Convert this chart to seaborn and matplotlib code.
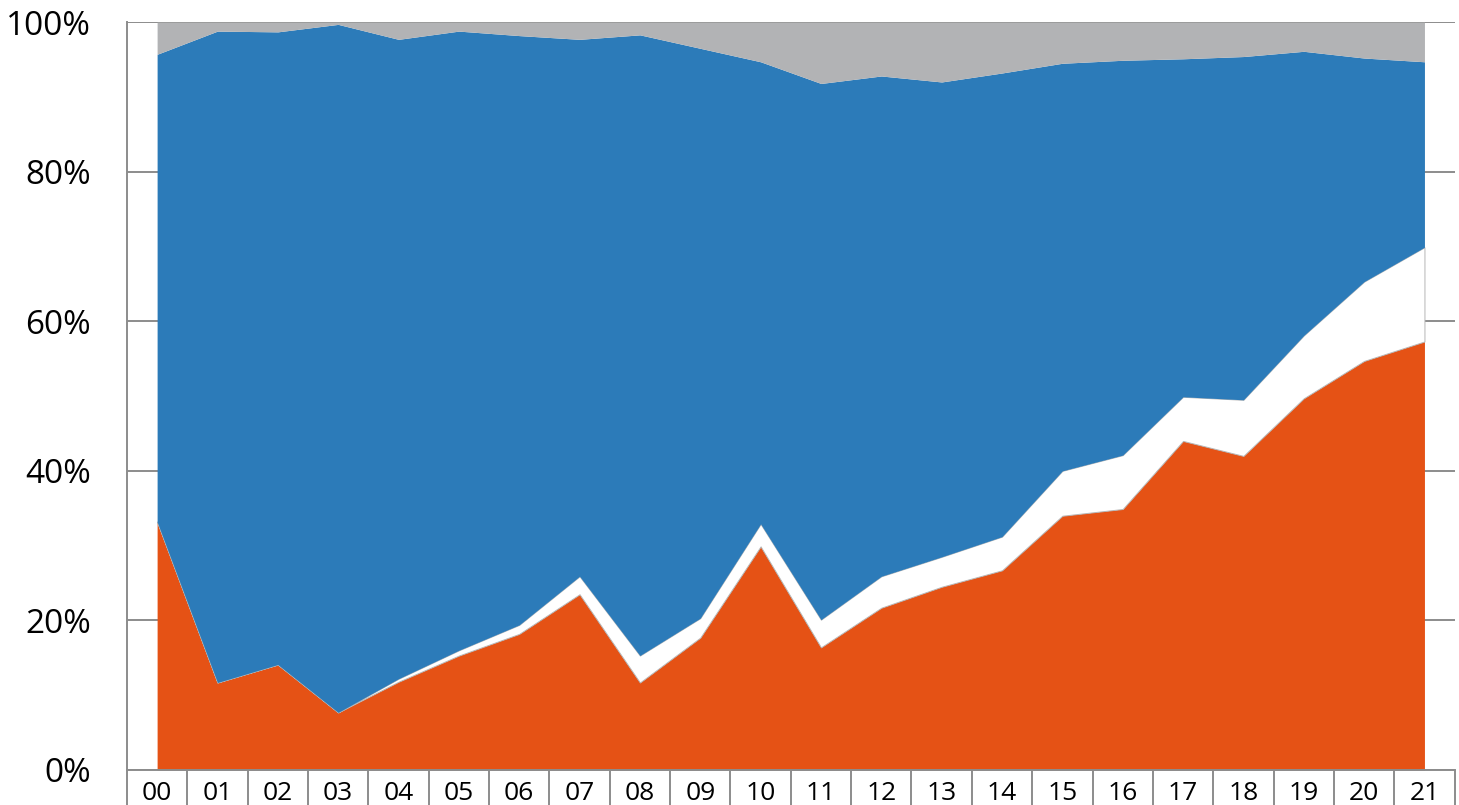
import numpy as np
import pandas as pd
import seaborn as sns
import matplotlib.pyplot as plt

# Share of each group per year (percent)
years = ['00', '01', '02', '03', '04', '05', '06', '07', '08', '09', '10',
         '11', '12', '13', '14', '15', '16', '17', '18', '19', '20', '21']
orange_share = [33.2, 11.7, 14.1, 7.7, 11.8, 15.3, 18.2, 23.5, 11.7, 17.7, 29.9,
                16.4, 21.7, 24.5, 26.7, 34.0, 34.9, 44.0, 42.0, 49.7, 54.7, 57.3]
white_share = [0.0, 0.0, 0.0, 0.0, 0.4, 0.7, 1.2, 2.4, 3.6, 2.6, 3.0,
               3.7, 4.2, 4.0, 4.5, 6.0, 7.2, 5.9, 7.5, 8.4, 10.6, 12.6]
blue_share = [62.5, 87.1, 84.6, 92.0, 85.5, 82.8, 78.8, 71.8, 83.0, 76.2, 61.8,
              71.7, 66.9, 63.5, 62.0, 54.5, 52.8, 45.2, 45.9, 38.0, 29.9, 24.8]
gray_share = [4.3, 1.2, 1.3, 0.3, 2.3, 1.2, 1.8, 2.3, 1.7, 3.5, 5.3,
              8.2, 7.2, 8.0, 6.8, 5.5, 5.1, 4.9, 4.6, 3.9, 4.8, 5.3]

df = pd.DataFrame({'year': years, 'orange': orange_share, 'white': white_share,
                   'blue': blue_share, 'gray': gray_share})

sns.set_theme(style='white')
plt.rcParams['font.family'] = ['Open Sans', 'DejaVu Sans']

fig = plt.figure(figsize=(14.59, 8.05), dpi=100)
ax = fig.add_axes([0.087, 0.0435, 0.91, 0.929])

x = np.arange(len(df))
colors = ['#E55215', '#FFFFFF', '#2C7BB9', '#B2B3B5']
polys = ax.stackplot(x, df['orange'], df['white'], df['blue'], df['gray'],
                     colors=colors, linewidth=0)
# the white band has a faint grey outline in the original
polys[1].set_edgecolor('#b5b5b5')
polys[1].set_linewidth(0.7)

ax.set_xlim(-0.5, len(df) - 0.5)
ax.set_ylim(0, 100)

# y axis
ax.set_yticks([0, 20, 40, 60, 80, 100])
ax.set_yticklabels([f'{v}%' for v in [0, 20, 40, 60, 80, 100]])
ax.tick_params(axis='y', length=0, pad=26, labelsize=24, labelcolor='black')
ax.yaxis.grid(True, color='#8c8c8c', linewidth=1.4)
ax.set_axisbelow(True)

# x axis: labels between boundary ticks
ax.set_xticks(x)
ax.set_xticklabels(df['year'])
ax.set_xticks(np.arange(-0.5, len(df), 1.0), minor=True)
ax.tick_params(axis='x', which='major', length=0, pad=8, labelsize=19, labelcolor='black')
ax.tick_params(axis='x', which='minor', length=30, width=1.4, color='#8c8c8c',
               direction='out', bottom=True)

for side in ['top', 'right']:
    ax.spines[side].set_visible(False)
for side in ['left', 'bottom']:
    ax.spines[side].set_visible(True)
    ax.spines[side].set_color('#8c8c8c')
    ax.spines[side].set_linewidth(1.4)

fig.savefig('out.png', dpi=100)
